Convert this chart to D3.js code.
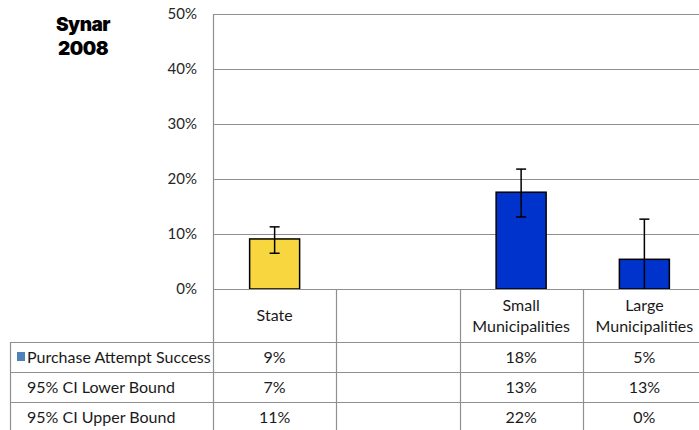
<!DOCTYPE html>
<html>
<head>
<meta charset="utf-8">
<script src="https://cdn.jsdelivr.net/npm/d3@7"></script>
<style>
  html, body { margin: 0; padding: 0; background: #fff; }
  svg { display: block; }
  text { font-family: Lato, "Open Sans", sans-serif; fill: #1a1a1a; }
</style>
</head>
<body>
<svg id="chart" width="699" height="430"></svg>
<script>
// ---- data ----
const categories = ["State", "", "Small Municipalities", "Large Municipalities"];
const headerLines = [["State"], [""], ["Small", "Municipalities"], ["Large", "Municipalities"]];
const values = [0.091, null, 0.176, 0.054];
const errLow = [0.065, null, 0.131, 0.0];
const errHigh = [0.113, null, 0.218, 0.127];
const barColors = ["#F7D640", null, "#0033CC", "#0033CC"];
const yTicks = [0, 0.1, 0.2, 0.3, 0.4, 0.5];
const rowLabels = ["Purchase Attempt Success", "95% CI Lower Bound", "95% CI Upper Bound"];
const rowSuccess = ["9%", "", "18%", "5%"];
const rowLower = ["7%", "", "13%", "13%"];
const rowUpper = ["11%", "", "22%", "0%"];
const tableRows = [rowSuccess, rowLower, rowUpper];
const titleLines = ["Synar", "2008"];

// ---- layout ----
const W = 699, H = 430;
const plotLeft = 213, plotRight = 706, plotTop = 14, plotBottom = 289;
const tableLeft = 10, headerBottom = 342, rowH = 30;
const grid = "#8f8f8f";
const tableFont = "16px";

const svg = d3.select("#chart");
const idx = categories.map((d, i) => i);
const x = d3.scaleBand().domain(idx).range([plotLeft, plotRight]).padding(0);
const y = d3.scaleLinear().domain([0, 0.5]).range([plotBottom, plotTop]);
const barW = 50;

// title
svg.append("g").selectAll("text").data(titleLines).join("text")
  .attr("x", 83).attr("y", (d, i) => 31 + i * 24)
  .attr("text-anchor", "middle")
  .style("font-family", "Inter, 'DejaVu Sans', sans-serif")
  .style("font-weight", 900).style("font-size", "19px")
  .style("letter-spacing", "-0.5px")
  .style("fill", "#000")
  .text(d => d);

// gridlines
svg.append("g").selectAll("line").data(yTicks).join("line")
  .attr("x1", plotLeft).attr("x2", W)
  .attr("y1", d => Math.round(y(d)) + 0.5).attr("y2", d => Math.round(y(d)) + 0.5)
  .attr("stroke", grid).attr("stroke-width", 1.2);

// y axis labels
svg.append("g").selectAll("text").data(yTicks).join("text")
  .attr("x", 197).attr("y", d => y(d))
  .attr("dy", "0.36em")
  .attr("text-anchor", "end")
  .style("font-size", "15px").style("fill", "#262626")
  .text(d => d3.format(".0%")(d));

// left axis line
svg.append("line")
  .attr("x1", plotLeft + 0.5).attr("x2", plotLeft + 0.5)
  .attr("y1", plotTop).attr("y2", H)
  .attr("stroke", grid).attr("stroke-width", 1.2);

// bars
const barData = idx.filter(i => values[i] != null);
svg.append("g").selectAll("rect").data(barData).join("rect")
  .attr("x", i => x(i) + x.bandwidth() / 2 - barW / 2)
  .attr("width", barW)
  .attr("y", i => y(values[i]))
  .attr("height", i => y(0) - y(values[i]))
  .attr("fill", i => barColors[i])
  .attr("stroke", "#000").attr("stroke-width", 1.5);

// error bars
const eg = svg.append("g").attr("stroke", "#000").attr("stroke-width", 1.5);
barData.forEach(i => {
  const cx = x(i) + x.bandwidth() / 2;
  eg.append("line").attr("x1", cx).attr("x2", cx).attr("y1", y(errHigh[i])).attr("y2", y(errLow[i]));
  eg.append("line").attr("x1", cx - 5).attr("x2", cx + 5).attr("y1", y(errHigh[i])).attr("y2", y(errHigh[i]));
  if (errLow[i] > 0) {
    eg.append("line").attr("x1", cx - 5).attr("x2", cx + 5).attr("y1", y(errLow[i])).attr("y2", y(errLow[i]));
  }
});

// redraw baseline over bars
svg.append("line")
  .attr("x1", plotLeft).attr("x2", W)
  .attr("y1", Math.round(y(0)) + 0.5).attr("y2", Math.round(y(0)) + 0.5)
  .attr("stroke", grid).attr("stroke-width", 1.2);

// table vertical separators
const tg = svg.append("g");
idx.slice(1).forEach(i => {
  tg.append("line").attr("x1", Math.round(x(i)) + 0.5).attr("x2", Math.round(x(i)) + 0.5)
    .attr("y1", plotBottom).attr("y2", H)
    .attr("stroke", grid).attr("stroke-width", 1.2);
});
// table left border
tg.append("line").attr("x1", tableLeft + 0.5).attr("x2", tableLeft + 0.5)
  .attr("y1", headerBottom).attr("y2", H)
  .attr("stroke", grid).attr("stroke-width", 1.2);
// table horizontal lines
[0, 1, 2].forEach(r => {
  const yy = headerBottom + r * rowH + 0.5;
  tg.append("line").attr("x1", tableLeft).attr("x2", W)
    .attr("y1", yy).attr("y2", yy)
    .attr("stroke", grid).attr("stroke-width", 1.2);
});

// header labels
idx.forEach(i => {
  const lines = headerLines[i];
  const cx = x(i) + x.bandwidth() / 2;
  const mid = (plotBottom + headerBottom) / 2;
  lines.forEach((t, k) => {
    tg.append("text")
      .attr("x", cx)
      .attr("y", mid + (k - (lines.length - 1) / 2) * 21)
      .attr("dy", "0.36em")
      .attr("text-anchor", "middle")
      .style("font-size", tableFont)
      .text(t);
  });
});

// row labels
rowLabels.forEach((t, r) => {
  tg.append("text")
    .attr("x", 27).attr("y", headerBottom + r * rowH + rowH / 2)
    .attr("dy", "0.36em")
    .style("font-size", tableFont)
    .text(t);
});
// legend key
tg.append("rect")
  .attr("x", 17).attr("y", headerBottom + 10).attr("width", 8).attr("height", 9)
  .attr("fill", "#4F81BD");

// row values
tableRows.forEach((row, r) => {
  row.forEach((v, i) => {
    tg.append("text")
      .attr("x", x(i) + x.bandwidth() / 2)
      .attr("y", headerBottom + r * rowH + rowH / 2)
      .attr("dy", "0.36em")
      .attr("text-anchor", "middle")
      .style("font-size", tableFont)
      .text(v);
  });
});
</script>
</body>
</html>
